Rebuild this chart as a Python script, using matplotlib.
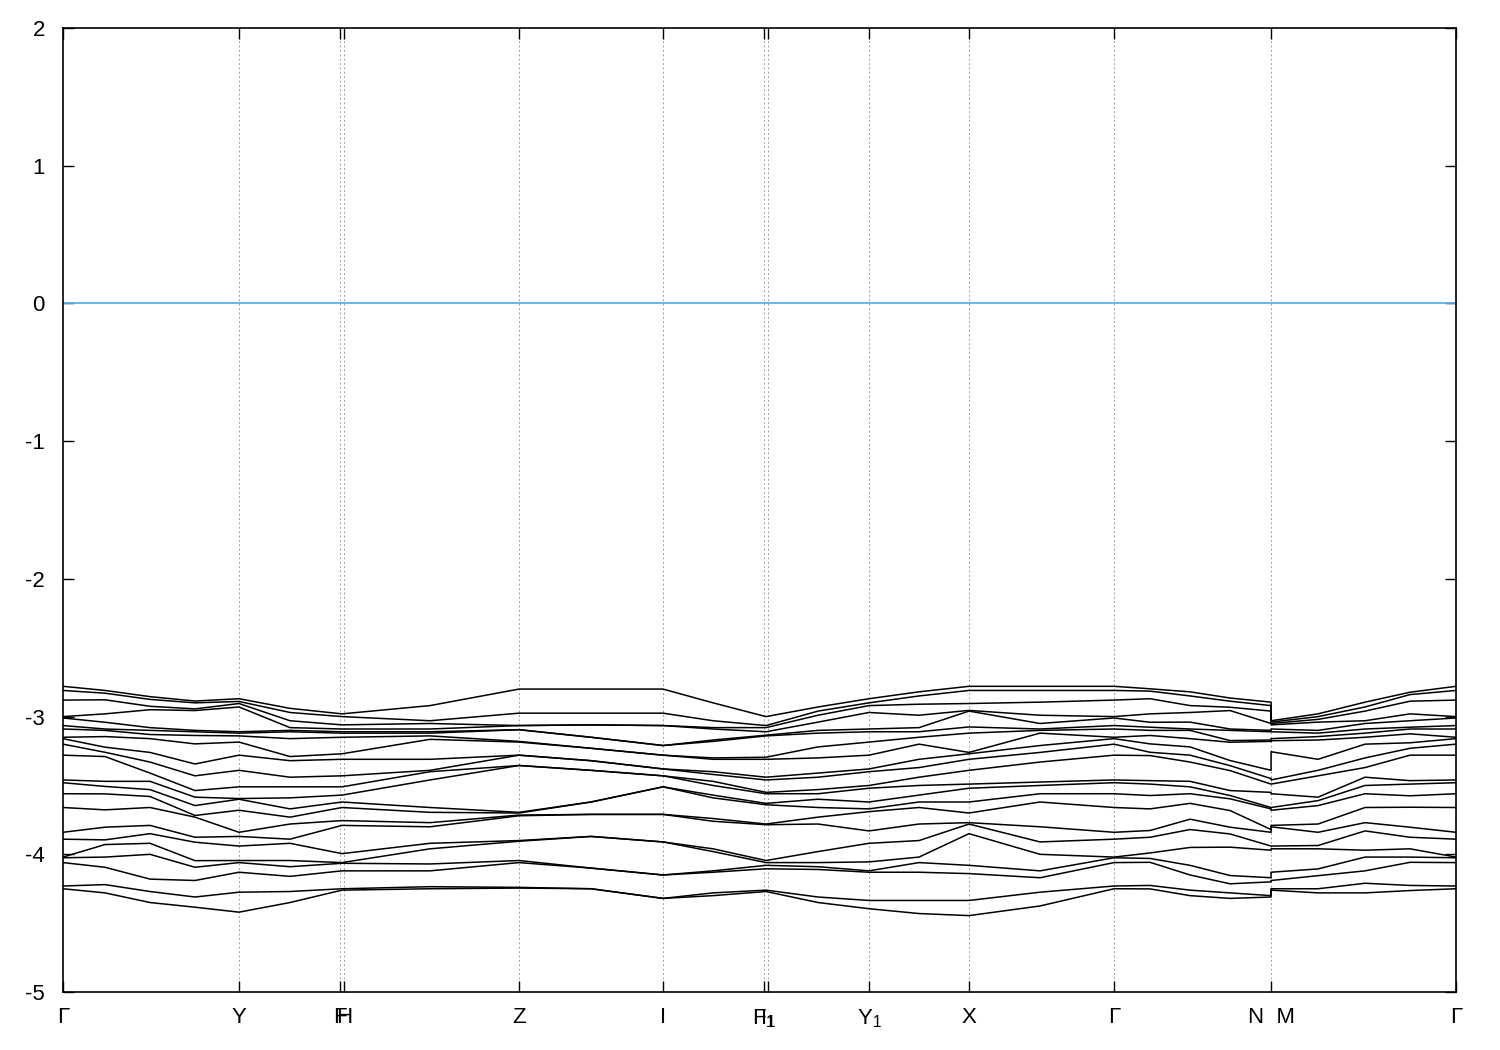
import numpy as np
import matplotlib
matplotlib.use('Agg')
import matplotlib.pyplot as plt

plt.rcParams['font.family'] = ['Liberation Sans', 'DejaVu Sans']
plt.rcParams['axes.unicode_minus'] = False
plt.rcParams['mathtext.default'] = 'regular'

# high-symmetry points along the k-path (path distance, arbitrary units)
sym_pos = [0, 176, 277, 281, 456, 600, 701, 705, 806, 906, 1051, 1208, 1393]
sym_labels = ['Γ', 'Y', 'F', 'H', 'Z', 'I', 'F$_1$', 'I$_1$', 'Y$_1$', 'X', 'Γ', 'N  M', 'Γ']

# path positions where the band energies were read (N and M share a position)
k_samples = [0, 42, 87, 132, 176, 227, 279, 367, 456, 528, 600, 650, 703, 755,
             806, 856, 906, 977, 1051, 1087, 1127, 1167, 1208, 1208, 1255, 1302, 1347, 1393]

# band energies (eV) at each sampled k, sorted from the highest band down
e_gamma = [-2.78, -2.81, -2.88, -3.00, -3.01, -3.065, -3.09, -3.15, -3.16, -3.20, -3.28,
           -3.46, -3.48, -3.56, -3.66, -3.84, -3.89, -4.02, -4.025, -4.06, -4.23, -4.25]
e_gy1 = [-2.81, -2.83, -2.878, -2.98, -3.041, -3.09, -3.10, -3.145, -3.222, -3.259, -3.29,
         -3.47, -3.507, -3.561, -3.677, -3.803, -3.895, -3.929, -4.02, -4.094, -4.22, -4.28]
e_gy2 = [-2.855, -2.875, -2.925, -2.95, -3.08, -3.10, -3.13, -3.16, -3.26, -3.33, -3.41,
         -3.47, -3.53, -3.58, -3.66, -3.79, -3.85, -3.92, -4.00, -4.18, -4.27, -4.35]
e_gy3 = [-2.887, -2.90, -2.944, -2.956, -3.10, -3.11, -3.137, -3.198, -3.344, -3.43, -3.537,
         -3.585, -3.646, -3.718, -3.73, -3.876, -3.912, -4.046, -4.094, -4.19, -4.31, -4.384]
e_y = [-2.87, -2.89, -2.905, -2.93, -3.11, -3.12, -3.14, -3.185, -3.28, -3.39, -3.51,
       -3.595, -3.60, -3.68, -3.84, -3.87, -3.94, -4.045, -4.06, -4.13, -4.275, -4.42]
e_yf = [-2.94, -2.97, -3.03, -3.08, -3.10, -3.11, -3.16, -3.29, -3.32, -3.44, -3.51,
        -3.59, -3.67, -3.73, -3.78, -3.89, -3.92, -4.045, -4.09, -4.16, -4.27, -4.35]
e_fh = [-2.98, -3.00, -3.06, -3.09, -3.11, -3.12, -3.15, -3.27, -3.31, -3.43, -3.51,
        -3.57, -3.62, -3.66, -3.755, -3.79, -3.995, -4.06, -4.065, -4.12, -4.25, -4.26]
e_hz = [-2.92, -3.03, -3.05, -3.09, -3.11, -3.12, -3.14, -3.165, -3.31, -3.39, -3.40,
        -3.46, -3.66, -3.695, -3.77, -3.80, -3.92, -3.96, -4.07, -4.12, -4.235, -4.25]
e_z = [-2.80, -2.975, -3.065, -3.065, -3.095, -3.095, -3.18, -3.185, -3.28, -3.28, -3.355,
       -3.355, -3.695, -3.70, -3.715, -3.72, -3.90, -3.905, -4.045, -4.06, -4.24, -4.245]
e_zi = [-2.80, -2.975, -3.06, -3.06, -3.15, -3.15, -3.23, -3.23, -3.32, -3.32, -3.39,
        -3.39, -3.62, -3.62, -3.71, -3.71, -3.87, -3.87, -4.10, -4.10, -4.25, -4.25]
e_i = [-2.80, -2.975, -3.065, -3.065, -3.21, -3.21, -3.28, -3.28, -3.38, -3.38, -3.43,
       -3.43, -3.51, -3.51, -3.71, -3.71, -3.91, -3.91, -4.15, -4.15, -4.32, -4.32]
e_if = [-2.90, -3.03, -3.08, -3.09, -3.17, -3.18, -3.30, -3.31, -3.40, -3.42, -3.47,
        -3.50, -3.57, -3.59, -3.74, -3.76, -3.96, -3.98, -4.12, -4.13, -4.28, -4.30]
e_f1 = [-3.00, -3.065, -3.08, -3.11, -3.135, -3.14, -3.295, -3.31, -3.44, -3.46, -3.55,
        -3.56, -3.63, -3.64, -3.78, -3.785, -4.045, -4.06, -4.08, -4.105, -4.26, -4.27]
e_fy1 = [-2.93, -2.96, -2.99, -3.04, -3.10, -3.12, -3.22, -3.30, -3.41, -3.44, -3.53,
         -3.56, -3.60, -3.66, -3.73, -3.78, -3.98, -4.06, -4.09, -4.11, -4.31, -4.35]
e_y1 = [-2.87, -2.90, -2.92, -2.97, -3.09, -3.11, -3.185, -3.28, -3.38, -3.40, -3.50,
        -3.52, -3.62, -3.67, -3.69, -3.83, -3.92, -4.055, -4.12, -4.13, -4.335, -4.395]
e_y1x = [-2.82, -2.85, -2.91, -2.99, -3.08, -3.11, -3.15, -3.20, -3.31, -3.37, -3.44,
         -3.50, -3.57, -3.62, -3.66, -3.78, -3.90, -4.02, -4.06, -4.13, -4.335, -4.43]
e_x = [-2.78, -2.81, -2.905, -2.955, -2.96, -3.075, -3.12, -3.26, -3.27, -3.31, -3.39,
       -3.49, -3.52, -3.62, -3.70, -3.77, -3.78, -3.85, -4.08, -4.14, -4.335, -4.445]
e_xg = [-2.78, -2.81, -2.895, -2.99, -3.05, -3.09, -3.10, -3.12, -3.21, -3.26, -3.33,
        -3.475, -3.50, -3.56, -3.62, -3.80, -3.91, -4.00, -4.12, -4.17, -4.275, -4.375]
e_gn1 = [-2.798, -2.815, -2.87, -2.98, -3.041, -3.077, -3.10, -3.137, -3.198, -3.259, -3.283,
         -3.465, -3.49, -3.573, -3.67, -3.827, -3.876, -3.99, -4.03, -4.058, -4.226, -4.251]
e_gn2 = [-2.82, -2.85, -2.92, -2.97, -3.04, -3.09, -3.10, -3.16, -3.22, -3.28, -3.33,
         -3.47, -3.51, -3.56, -3.63, -3.745, -3.82, -3.95, -4.08, -4.15, -4.26, -4.30]
e_gn3 = [-2.865, -2.888, -2.932, -2.956, -3.09, -3.10, -3.174, -3.186, -3.319, -3.356, -3.392,
         -3.537, -3.573, -3.597, -3.682, -3.803, -3.852, -3.948, -4.154, -4.214, -4.28, -4.32]
e_n = [-2.895, -2.92, -2.96, -3.05, -3.10, -3.11, -3.17, -3.18, -3.39, -3.45, -3.49,
       -3.55, -3.66, -3.67, -3.82, -3.84, -3.94, -3.97, -4.17, -4.20, -4.30, -4.31]
e_m = [-3.03, -3.04, -3.05, -3.06, -3.09, -3.11, -3.16, -3.175, -3.255, -3.46, -3.49,
       -3.56, -3.66, -3.68, -3.79, -3.80, -3.94, -3.96, -4.13, -4.19, -4.25, -4.26]
e_mg1 = [-2.98, -3.00, -3.02, -3.04, -3.10, -3.12, -3.145, -3.17, -3.31, -3.39, -3.43,
         -3.585, -3.61, -3.646, -3.78, -3.84, -3.936, -3.96, -4.106, -4.155, -4.25, -4.28]
e_mg2 = [-2.895, -2.93, -2.96, -3.03, -3.05, -3.09, -3.12, -3.15, -3.20, -3.30, -3.37,
         -3.44, -3.50, -3.56, -3.66, -3.77, -3.83, -3.97, -4.02, -4.12, -4.21, -4.28]
e_mg3 = [-2.823, -2.84, -2.888, -2.98, -3.03, -3.077, -3.09, -3.125, -3.19, -3.23, -3.28,
         -3.465, -3.49, -3.575, -3.658, -3.803, -3.876, -3.96, -4.02, -4.058, -4.226, -4.263]

columns = [e_gamma, e_gy1, e_gy2, e_gy3, e_y, e_yf, e_fh, e_hz, e_z, e_zi, e_i, e_if,
           e_f1, e_fy1, e_y1, e_y1x, e_x, e_xg, e_gamma, e_gn1, e_gn2, e_gn3, e_n, e_m,
           e_mg1, e_mg2, e_mg3, e_gamma]
bands = np.array(columns).T

fig = plt.figure(figsize=(15, 10.5), dpi=100)
ax = fig.add_axes([0.042, 0.0552, 0.9287, 0.9181])

for x in sym_pos[1:-1]:
    ax.axvline(x, color='#a0a0a0', lw=0.7, ls=(0, (2, 2.5)), zorder=1)

ax.axhline(0, color='#56b4e9', lw=1.3, zorder=2)

for band in bands:
    ax.plot(k_samples, band, color='black', lw=1.1, zorder=3)

ax.set_xlim(sym_pos[0], sym_pos[-1])
ax.set_ylim(-5, 2)
ax.set_xticks(sym_pos)
ax.set_xticklabels(sym_labels)
ax.set_yticks(np.arange(-5, 3))
ax.tick_params(direction='in', length=8, width=1, top=True, right=True, labelsize=16)
ax.tick_params(axis='x', pad=11)
ax.tick_params(axis='y', pad=13)
for sp in ax.spines.values():
    sp.set_linewidth(1.2)

fig.savefig('out.png', dpi=100)
